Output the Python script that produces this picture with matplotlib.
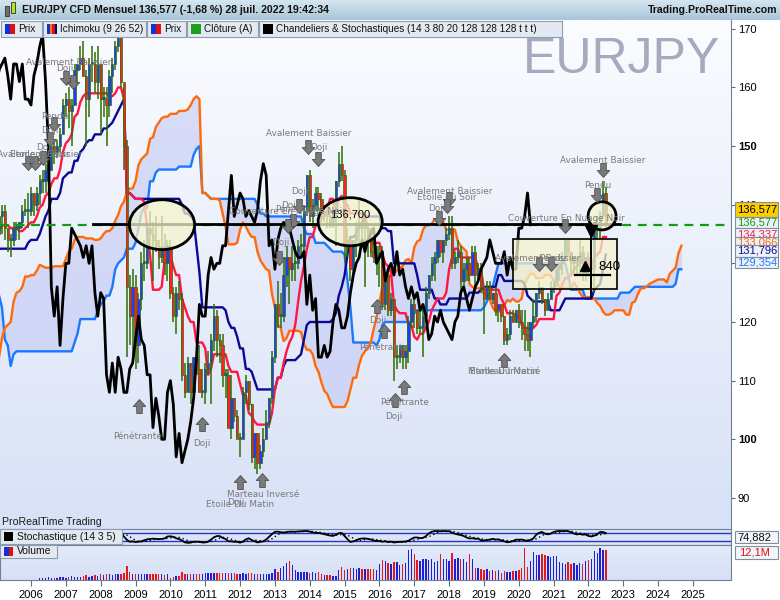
import numpy as np
import pandas as pd
import matplotlib
matplotlib.use("Agg")
import matplotlib.pyplot as plt
from matplotlib.colors import to_rgb
from matplotlib.patches import Ellipse, Rectangle
from matplotlib.path import Path

# EUR/JPY monthly candles, Aug 1998 .. Jul 2022 (one row per year)
close = [
    158, 155, 137, 143, 135,
    129, 133, 129, 128, 128, 120, 125, 118, 113, 111, 105, 103,
    104, 104, 98, 98, 99, 100, 100, 94, 95, 92, 95, 107,
    108, 108, 110, 110, 101, 104, 107, 108, 109, 108, 110, 116,
    115, 116, 116, 117, 117, 118, 117, 116, 119, 121, 121, 124,
    130, 128, 129, 131, 139, 138, 134, 131, 129, 128, 130, 135,
    131, 133, 128, 129, 134, 133, 134, 135, 136, 134, 137, 139,
    135, 138, 139, 136, 134, 134, 136, 136, 137, 139, 139, 139,
    142, 140, 142, 144, 144, 146, 146, 150, 149, 150, 152, 157,
    158, 156, 157, 163, 164, 165, 162, 158, 164, 164, 161, 164,
    158, 158, 157, 162, 164, 167, 169, 161, 150, 126, 121, 126,
    116, 124, 130, 130, 136, 135, 134, 133, 131, 133, 130, 133,
    125, 121, 125, 124, 111, 108, 113, 108, 114, 112, 108, 108,
    112, 113, 117, 121, 117, 116, 111, 111, 102, 107, 104, 100,
    100, 108, 110, 106, 97, 101, 96, 98, 100, 103, 107, 114,
    123, 121, 121, 128, 131, 129, 130, 130, 133, 133, 139, 145,
    138, 140, 142, 141, 138, 139, 138, 137, 139, 144, 147, 145,
    133, 134, 129, 134, 136, 137, 136, 136, 134, 132, 131, 131,
    132, 123, 128, 122, 124, 114, 114, 116, 114, 115, 120, 123,
    122, 119, 119, 121, 125, 128, 130, 131, 134, 132, 134, 135,
    136, 130, 131, 132, 127, 129, 130, 128, 132, 128, 129, 126,
    124, 126, 124, 125, 122, 123, 121, 117, 118, 121, 120, 122,
    120, 119, 118, 117, 120, 121, 125, 126, 124, 122, 124, 126,
    127, 129, 130, 131, 134, 132, 130, 130, 130, 132, 128, 131,
    129, 129, 136, 136, 138, 142, 136.577,
]
high = [
    163, 160, 156, 145, 143,
    136, 134, 133, 129, 130, 128, 126, 125, 118, 114, 112, 106,
    107, 108, 105, 101, 101, 102, 101, 100, 96, 96, 97, 107,
    111, 110, 113, 113, 111, 106, 108, 110, 111, 110, 111, 117,
    117, 118, 117, 118, 118, 120, 119, 118, 121, 122, 123, 125,
    130, 131, 132, 133, 140, 141, 139, 136, 131, 130, 131, 135,
    136, 138, 134, 131, 135, 134, 136, 137, 137, 137, 139, 141,
    140, 139, 140, 140, 136, 135, 137, 137, 137, 140, 141, 142,
    143, 142, 143, 145, 146, 147, 148, 151, 151, 151, 153, 158,
    159, 160, 158, 164, 164, 167, 168, 163, 165, 167, 166, 167,
    164, 160, 160, 163, 165, 168, 170, 169, 160, 151, 128, 129,
    128, 125, 132, 134, 137, 139, 137, 138, 134, 138, 135, 134,
    134, 126, 126, 127, 125, 113, 114, 113, 114, 116, 116, 112,
    113, 115, 118, 123, 122, 118, 118, 112, 112, 111, 107, 105,
    101, 109, 111, 110, 106, 101, 101, 99, 102, 105, 107, 115,
    123, 127, 125, 131, 133, 131, 133, 133, 134, 135, 140, 145,
    146, 141, 143, 143, 142, 140, 139, 139, 139, 144, 149, 150,
    146, 136, 134, 134, 137, 141, 138, 138, 136, 136, 134, 133,
    133, 133, 128, 129, 125, 124, 116, 116, 116, 116, 121, 124,
    124, 122, 122, 122, 126, 128, 131, 132, 134, 134, 134, 136,
    138, 138, 132, 134, 133, 130, 131, 131, 133, 133, 130, 130,
    126, 127, 127, 125, 126, 123, 122, 121, 119, 122, 122, 122,
    123, 122, 122, 120, 120, 124, 125, 127, 126, 124, 125, 127,
    127, 130, 130, 132, 134, 134, 132, 131, 131, 134, 133, 131,
    132, 131, 137, 138, 139, 144, 143,
]
low = [
    152, 150, 132, 135, 131,
    128, 128, 126, 125, 125, 119, 119, 116, 109, 109, 104, 101,
    101, 103, 97, 95, 93, 98, 96, 94, 92, 89, 92, 95,
    104, 105, 107, 108, 101, 100, 103, 106, 105, 106, 106, 109,
    113, 114, 114, 114, 115, 115, 115, 114, 114, 118, 119, 119,
    124, 126, 126, 128, 131, 134, 132, 128, 126, 124, 126, 129,
    131, 130, 125, 127, 129, 130, 132, 132, 133, 133, 134, 136,
    134, 134, 135, 134, 132, 131, 133, 134, 134, 136, 138, 136,
    138, 138, 139, 140, 142, 142, 144, 146, 147, 148, 149, 152,
    155, 153, 150, 157, 161, 163, 162, 150, 155, 161, 159, 158,
    152, 155, 150, 155, 159, 163, 166, 160, 146, 114, 116, 113,
    112, 113, 122, 127, 129, 133, 127, 132, 129, 130, 128, 127,
    124, 120, 118, 122, 110, 107, 108, 106, 107, 111, 108, 107,
    106, 111, 106, 115, 114, 113, 109, 107, 102, 100, 103, 100,
    97, 100, 106, 105, 96, 95, 94, 95, 97, 100, 102, 106,
    113, 119, 119, 120, 126, 123, 127, 127, 129, 131, 132, 138,
    137, 136, 139, 139, 137, 137, 136, 136, 136, 133, 143, 144,
    130, 131, 127, 127, 131, 133, 134, 126, 131, 131, 130, 128,
    126, 122, 122, 121, 121, 110, 112, 113, 112, 112, 113, 119,
    119, 118, 118, 114, 120, 124, 127, 127, 130, 131, 130, 133,
    134, 129, 129, 130, 124, 126, 127, 127, 128, 126, 127, 125,
    118, 124, 124, 123, 121, 120, 120, 116, 116, 117, 120, 120,
    119, 117, 115, 115, 114, 119, 120, 124, 123, 121, 122, 124,
    125, 126, 127, 128, 131, 131, 128, 128, 128, 128, 127, 127,
    128, 125, 125, 134, 134, 138, 136,
]
first_month = 1998 + 7 / 12   # Aug 1998

# monthly volume in millions, Apr 2006 .. Jul 2022
volume = [
    0.8, 1.0, 1.0, 1.1, 0.9, 1.0, 1.0, 1.1, 1.2,
    1.0, 1.3, 1.5, 1.2, 1.2, 1.3, 1.6, 2.0, 1.4, 1.7, 2.2, 1.8,
    2.3, 1.9, 2.4, 2.6, 2.2, 2.6, 2.4, 2.5, 2.8, 5.6, 3.2, 2.6,
    2.5, 2.6, 2.6, 2.5, 2.6, 2.5, 2.4, 2.6, 2.5, 2.3, 2.2, 2.4,
    1.0, 1.4, 1.8, 1.6, 3.3, 2.6, 2.4, 2.5, 2.6, 2.5, 2.6, 2.6,
    2.8, 2.9, 2.7, 2.8, 2.9, 2.9, 2.9, 3.0, 2.9, 2.8, 2.7, 2.6,
    2.6, 2.8, 2.6, 2.7, 2.8, 2.6, 2.5, 2.6, 2.6, 2.5, 2.6, 3.0,
    4.6, 3.4, 4.8, 5.6, 6.8, 7.8, 6.0, 4.2, 3.3, 3.1, 3.4, 3.2,
    3.0, 3.3, 2.9, 3.2, 2.5, 2.2, 2.0, 1.9, 1.6, 1.5, 4.0, 5.4,
    4.0, 4.6, 4.8, 5.0, 4.4, 4.8, 4.5, 4.6, 4.4, 4.5, 4.5, 4.0,
    6.5, 8.0, 7.5, 6.7, 6.5, 7.4, 7.3, 6.2, 6.3, 6.8, 12.0, 12.6,
    10.5, 8.0, 7.8, 8.6, 8.3, 8.0, 8.3, 7.2, 7.6, 10.6, 8.3, 8.4,
    7.7, 10.8, 8.6, 8.8, 8.6, 8.4, 7.1, 10.5, 8.6, 4.8, 5.0, 4.6,
    4.2, 4.5, 3.8, 4.0, 3.6, 4.0, 3.0, 3.8, 3.2, 3.3, 3.5, 3.8,
    4.2, 5.0, 12.8, 5.4, 7.8, 11.4, 10.2, 10.0, 10.3, 10.0, 9.8, 9.4,
    9.8, 9.5, 7.4, 7.0, 6.5, 7.2, 6.4, 6.8, 6.2, 7.0, 6.6, 7.8,
    7.9, 8.6, 11.5, 11.0, 12.8, 12.2, 12.1,
]
vol_first_month = 2006 + 3 / 12   # Apr 2006

years = list(range(2006, 2026))
# values shown in the boxes on the price scale
scale_values = ["136,577", "136,577", "134,337", "133,066", "131,796", "129,354"]
stoch_value = "74,882"
volume_value = "12,1M"
last_price = 136.577
drawn_level = 136.7

# candle pattern labels (text, date, price)
pattern_labels = [
    ("Avalement Baissier", 2007.09, 164.2), ("Doji", 2006.98, 163.3),
    ("Pendu", 2006.69, 155.0), ("Doji", 2006.55, 152.6), ("Doji", 2006.40, 149.7),
    ("Avalement Baissier", 2006.26, 148.5), ("Etoile du Soir", 2006.26, 148.5),
    ("Pénétrante", 2009.07, 100.5), ("Doji", 2010.91, 99.2),
    ("Marteau Inversé", 2012.66, 90.6), ("Doji", 2011.88, 89.3), ("Etoile Du Matin", 2012.0, 88.8),
    ("Avalement Baissier", 2013.98, 152.1), ("Doji", 2014.27, 149.7), ("Doji", 2013.72, 142.2),
    ("Couverture En Nuage Noir", 2013.35, 138.9), ("Pénétrante", 2013.72, 139.1),
    ("Doji", 2013.43, 139.8), ("Doji", 2013.18, 133.5),
    ("Avalement Baissier", 2018.03, 142.2), ("Etoile du Soir", 2017.94, 141.3), ("Doji", 2017.65, 139.3),
    ("Couverture En Nuage Noir", 2021.36, 137.7),
    ("Avalement Baissier", 2020.55, 130.9), ("Pendu", 2020.98, 130.9),
    ("Avalement Baissier", 2022.42, 147.6), ("Pendu", 2022.27, 143.2),
    ("Doji", 2015.96, 120.2), ("Pénétrante", 2016.13, 115.7),
    ("Pénétrante", 2016.71, 106.3), ("Doji", 2016.42, 103.8),
    ("Etoile Du Matin", 2019.58, 111.5), ("Marteau Inversé", 2019.58, 111.5),
]
down_arrow_dates = [2007.00, 2007.21, 2006.66, 2006.55, 2006.34, 2005.91, 2006.11, 2013.95, 2014.24,
                    2013.69, 2013.52, 2013.38, 2013.12, 2018.00, 2017.94, 2017.71, 2021.33, 2020.58,
                    2020.93, 2022.42, 2022.25]
down_arrow_prices = [161.6, 161.0, 153.8, 151.2, 148.0, 147.1, 147.1, 149.9, 147.8,
                     139.8, 137.2, 136.4, 130.9, 141.0, 139.8, 137.7, 136.4, 129.9,
                     129.9, 145.9, 141.7]
up_arrow_dates = [2009.10, 2010.91, 2012.00, 2012.63, 2015.93, 2016.13, 2016.71, 2016.45, 2019.58]
up_arrow_prices = [105.7, 102.6, 92.7, 93.0, 122.7, 118.5, 108.9, 106.7, 113.5]

# ---------------------------------------------------------------
n = len(close)
t = first_month + np.arange(n) / 12
s_close = pd.Series(close, dtype=float)
s_high = pd.Series(high, dtype=float)
s_low = pd.Series(low, dtype=float)
s_open = s_close.shift(1).fillna(s_close.iloc[0])

tenkan = (s_high.rolling(9).max() + s_low.rolling(9).min()) / 2
kijun = (s_high.rolling(26).max() + s_low.rolling(26).min()) / 2
span_a = (tenkan + kijun) / 2
span_b = (s_high.rolling(52).max() + s_low.rolling(52).min()) / 2
t_span = t + 26 / 12
t_lag = t - 26 / 12

ll = s_low.rolling(14).min()
hh = s_high.rolling(14).max()
stoch_k = (100 * (s_close - ll) / (hh - ll)).rolling(3).mean()
stoch_d = stoch_k.rolling(5).mean()

W, H = 780, 600
fig = plt.figure(figsize=(W / 100, H / 100), dpi=100)
fig.patch.set_facecolor("white")
plt.rcParams["font.family"] = ["Liberation Sans", "DejaVu Sans"]


def box(x0, y0, x1, y1):
    return [x0 / W, 1 - y1 / H, (x1 - x0) / W, (y1 - y0) / H]


def shade(a, top, bottom):
    f = np.linspace(0, 1, 200)[:, None, None]
    img = np.array(to_rgb(top)) * (1 - f) + np.array(to_rgb(bottom)) * f
    a.imshow(img, extent=(0, 1, 0, 1), transform=a.transAxes, aspect="auto",
             zorder=0, interpolation="bilinear")


def frect(x0, y0, x1, y1, fc, ec="#8b9db0", z=10, lw=0.8):
    fig.add_artist(Rectangle((x0 / W, 1 - y1 / H), (x1 - x0) / W, (y1 - y0) / H,
                             transform=fig.transFigure, fc=fc, ec=ec, lw=lw, zorder=z))


def ftext(x, y, s, z=11, **kw):
    fig.text(x / W, 1 - y / H, s, zorder=z, va="center", **kw)


# header
hdr = fig.add_axes(box(0, 0, 780, 20))
shade(hdr, "#d6e6f0", "#a9c5d8")
hdr.set_xlim(0, 1); hdr.set_ylim(0, 1); hdr.axis("off")
frect(5, 6, 9, 16, "#707070", "#303030", z=12, lw=0.6)
frect(11, 2, 15, 13, "#b5e61d", "#303030", z=12, lw=0.6)
ftext(22, 10, "EUR/JPY CFD Mensuel 136,577 (-1,68 %) 28 juil. 2022 19:42:34",
      fontsize=7.6, fontweight="bold", color="#111111")
ftext(777, 10, "Trading.ProRealTime.com", fontsize=7.6, fontweight="bold",
      color="#111111", ha="right")

# main price panel
ax = fig.add_axes(box(0, 20, 731, 529))
shade(ax, "#fbfcff", "#d8e1f6")

ax.fill_between(t_span, span_a, span_b, color="#c3c9f4", alpha=0.6, lw=0, zorder=1)
ax.plot(t_span, span_b, color="#1a78ff", lw=1.7, zorder=2)
ax.plot(t_span, span_a, color="#ff6a0a", lw=1.7, zorder=2)
ax.plot(t, kijun, color="#0a0a96", lw=1.7, zorder=2)
ax.plot(t, tenkan, color="#ff1744", lw=1.7, zorder=2)

up = (s_close >= s_open).values
body_lo = np.minimum(s_open, s_close)
body_h = np.maximum(np.abs(s_close - s_open), 0.35)
ax.vlines(t, s_low, s_high, color="#2e6e06", lw=1.1, zorder=3)
ax.bar(t, body_h, bottom=body_lo, width=0.066, color=np.where(up, "#1f3cff", "#ff2020"),
       edgecolor="#2e6e06", lw=0.5, zorder=3)
ax.plot(t_lag, s_close, color="black", lw=2.0, zorder=4)

# hand drawn objects
ax.axhline(last_price, color="#159a15", lw=1.6, ls=(0, (4, 3)), zorder=5)
ax.plot([2007.78, 2022.9], [drawn_level, drawn_level], color="black", lw=2.0, zorder=5)
for cx, cy, w, h in [(2009.76, 136.6, 1.87, 8.5), (2015.16, 137.1, 1.84, 8.2),
                     (2022.39, 138.1, 0.80, 4.8)]:
    ax.add_patch(Ellipse((cx, cy), w, h, fc="#f4f4cc", ec="none", alpha=0.75, zorder=5))
    ax.add_patch(Ellipse((cx, cy), w, h, fc="none", ec="black", lw=2.0, zorder=6))
ax.add_patch(Rectangle((2019.83, 125.6), 2.99, 8.6, fc="#f4f4cc", ec="none", alpha=0.75, zorder=5))
ax.add_patch(Rectangle((2019.83, 125.6), 2.99, 8.6, fc="none", ec="black", lw=1.2, zorder=6))
ax.text(2015.16, 138.4, "136,700", fontsize=8, ha="center", va="center", zorder=7)
ax.plot([2022.07, 2022.07], [124.3, 136.0], color="black", lw=1.4, zorder=7)
ax.plot([2021.61, 2022.62], [128.0, 128.0], color="black", lw=1.6, zorder=7)
ax.plot([2022.07], [135.6], marker="v", color="black", ms=8, zorder=7)
ax.plot([2021.90], [129.6], marker="^", color="black", ms=7, zorder=7)
ax.text(2022.27, 129.4, "840", fontsize=9.5, va="center", zorder=7)

# pattern arrows and labels
def arrow_path(sign):
    v = [(-0.2, 0.5), (0.2, 0.5), (0.2, 0.0), (0.45, 0.0), (0.0, -0.5), (-0.45, 0.0),
         (-0.2, 0.0), (-0.2, 0.5)]
    v = [(a, sign * b) for a, b in v]
    return Path(v, [Path.MOVETO] + [Path.LINETO] * 6 + [Path.CLOSEPOLY])


ax.plot(down_arrow_dates, down_arrow_prices, ls="none", marker=arrow_path(1), ms=10,
        mfc="#7a7a7a", mec="#4d4d4d", mew=0.6, zorder=8)
ax.plot(up_arrow_dates, up_arrow_prices, ls="none", marker=arrow_path(-1), ms=10,
        mfc="#7a7a7a", mec="#4d4d4d", mew=0.6, zorder=8)
for txt, x, y in pattern_labels:
    ax.text(x, y, txt, fontsize=6.4, color="#7a7a7a", family="DejaVu Sans",
            ha="center", va="center", zorder=8)

ax.text(0.715, 0.896, "EURJPY", transform=ax.transAxes, fontsize=36, color="#a5aabe",
        family="Liberation Sans", zorder=1)

ax.set_xlim(2005.11, 2026.09)
ax.set_ylim(84.7, 171.5)
ax.yaxis.tick_right()
ax.set_yticks(range(90, 171, 10))
ax.set_yticklabels([str(v) for v in range(90, 171, 10)], fontsize=8)
for lab in ax.get_yticklabels():
    if lab.get_text() in ("100", "150"):
        lab.set_fontweight("bold")
ax.tick_params(axis="y", length=3, color="#5d6f82", pad=2)
ax.set_xticks([])
for side in ("top", "bottom", "left"):
    ax.spines[side].set_visible(False)
ax.spines["right"].set_color("#6d8196")

ftext(2, 522, "ProRealTime Trading", fontsize=7.6, color="#1a1a1a")

# stochastic panel
ax_s = fig.add_axes(box(0, 529, 731, 545))
ax_s.set_facecolor("#dce5f8")
ax_s.axhline(80, color="#2a35c8", lw=1.0)
ax_s.axhline(20, color="#2a35c8", lw=1.0)
ax_s.plot(t, stoch_k, color="black", lw=1.3)
ax_s.plot(t, stoch_d, color="black", lw=1.0, ls=(0, (1, 2)))
ax_s.set_xlim(ax.get_xlim()); ax_s.set_ylim(-8, 112)
ax_s.set_xticks([]); ax_s.set_yticks([])
for sp in ax_s.spines.values():
    sp.set_color("#6d8196"); sp.set_lw(0.8)

# volume panel
ax_v = fig.add_axes(box(0, 545, 731, 580))
shade(ax_v, "#e3eafa", "#d6dff5")
vt = vol_first_month + np.arange(len(volume)) / 12
k0 = int(round((vol_first_month - first_month) * 12))
vcol = np.where(up[k0:k0 + len(volume)], "#2020d0", "#e81818")
ax_v.bar(vt, volume, width=0.04, color=vcol, zorder=2)
ax_v.set_xlim(ax.get_xlim()); ax_v.set_ylim(0, 14.1)
ax_v.set_yticks([])
ax_v.set_xticks(years)
ax_v.set_xticklabels([str(y) for y in years], fontsize=8)
ax_v.tick_params(axis="x", length=4, color="#5d6f82", pad=3)
for sp in ax_v.spines.values():
    sp.set_color("#6d8196"); sp.set_lw(0.8)

# legend row
legend_items = [
    ("Prix", 1, 42, ["#1530d8", "#e01010"]),
    ("Ichimoku (9 26 52)", 43, 146, ["#1530d8", "#ff7a00", "#e01010", "#000080"]),
    ("Prix", 147, 186, ["#1530d8", "#e01010"]),
    ("Clôture (A)", 187, 258, ["#1aa01a"]),
    ("Chandeliers & Stochastiques (14 3 80 20 128 128 128 t t t)", 259, 562, ["#000000"]),
]
for label, x0, x1, cols in legend_items:
    frect(x0, 21, x1, 37, "#e2e9f0")
    step = 10 / len(cols)
    for i, c in enumerate(cols):
        frect(x0 + 4 + i * step, 24, x0 + 4 + (i + 1) * step, 34, c, ec="none", z=11)
    ftext(x0 + 17, 29.5, label, fontsize=7.2, color="#111111", z=12)

frect(0, 529, 122, 544, "#e2e9f0")
frect(4, 532, 13, 541, "#000000", ec="none", z=11)
ftext(17, 537, "Stochastique (14 3 5)", fontsize=7.5, color="#111111", z=12)
frect(0, 545, 57, 558, "#e2e9f0")
frect(4, 547, 8.5, 556, "#1530d8", ec="none", z=11)
frect(8.5, 547, 13, 556, "#e01010", ec="none", z=11)
ftext(17, 551.5, "Volume", fontsize=7.5, color="#111111", z=12)

# value boxes on the price scale
scale_boxes = [("#ffcc00", "black", 202.0, 216.7), ("#eef2f8", "#129612", 216.7, 228.3),
               ("#eef2f8", "#ff1744", 228.3, 240.0), ("#eef2f8", "#ff6a0a", 237.0, 248.7),
               ("#eef2f8", "#0a0a96", 245.0, 256.7), ("#eef2f8", "#1a78ff", 256.7, 268.3)]
for k, (val, (fc, tc, y0, y1)) in enumerate(zip(scale_values, scale_boxes)):
    frect(735, y0, 778, y1, fc, ec="#7f8e9c", z=20 + 2 * k)
    ftext(737, (y0 + y1) / 2, val, z=21 + 2 * k, fontsize=8, color=tc)

frect(735, 531, 778, 543, "#f2f5fa", ec="#7f8e9c", z=20)
ftext(737, 537, stoch_value, z=21, fontsize=8, color="#111111")
frect(735, 546, 778, 559, "#f2f5fa", ec="#7f8e9c", z=20)
ftext(739, 552.5, volume_value, z=21, fontsize=8, color="#e01010")

fig.savefig("out.png", dpi=100, facecolor="white")
